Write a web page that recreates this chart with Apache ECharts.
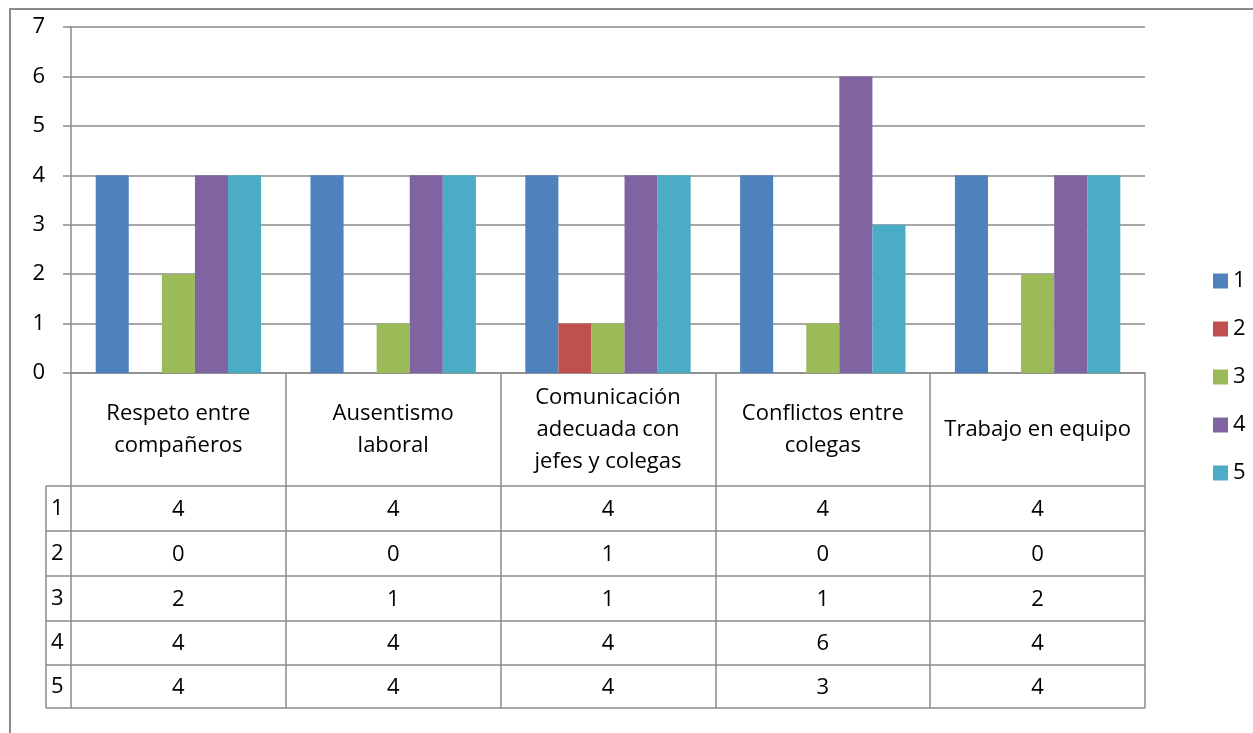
<!DOCTYPE html>
<html>
<head>
<meta charset="utf-8">
<script src="https://cdn.jsdelivr.net/npm/echarts@6/dist/echarts.min.js"></script>
<style>
html,body{margin:0;padding:0;background:#fff;}
#chart{width:1253px;height:733px;}
</style>
</head>
<body>
<div id="chart"></div>
<script>
var categories = ['Respeto entre compañeros', 'Ausentismo laboral', 'Comunicación adecuada con jefes y colegas', 'Conflictos entre colegas', 'Trabajo en equipo'];
var categoryLabels = ['Respeto entre\ncompañeros', 'Ausentismo\nlaboral', 'Comunicación\nadecuada con\njefes y colegas', 'Conflictos entre\ncolegas', 'Trabajo en equipo'];
var seriesNames = ['1', '2', '3', '4', '5'];
var s1 = [4, 4, 4, 4, 4];
var s2 = [0, 0, 1, 0, 0];
var s3 = [2, 1, 1, 1, 2];
var s4 = [4, 4, 4, 6, 4];
var s5 = [4, 4, 4, 3, 4];
var yTicks = [0, 1, 2, 3, 4, 5, 6, 7];
var seriesData = [s1, s2, s3, s4, s5];
var colors = ['#4F81BD', '#C0504D', '#9BBB59', '#8064A2', '#4BACC6'];

var FONT = '"Open Sans", sans-serif';
var FS = 22;
var LINE = '#8a8a8a';
var chart = echarts.init(document.getElementById('chart'), null, {renderer: 'canvas'});

var GRID_TOP = 27, GRID_BOTTOM_Y = 373;
var ROW_TOPS = [486, 531, 576, 621, 665, 708];

var option = {
  animation: false,
  backgroundColor: '#fff',
  color: colors,
  grid: {left: 71, right: 108, top: GRID_TOP, bottom: 733 - GRID_BOTTOM_Y, containLabel: false},
  legend: {
    orient: 'vertical',
    left: 1208,
    top: 265,
    itemWidth: 15,
    itemHeight: 15,
    itemGap: 26,
    icon: 'rect',
    textStyle: {fontFamily: FONT, fontSize: FS, color: '#000'},
    data: seriesNames
  },
  xAxis: {
    type: 'category',
    data: categories,
    boundaryGap: true,
    axisLine: {show: true, lineStyle: {color: LINE, width: 1.5}},
    axisTick: {show: true, alignWithLabel: false, length: ROW_TOPS[5] - GRID_BOTTOM_Y, lineStyle: {color: LINE, width: 1.5}},
    axisLabel: {
      interval: 0,
      margin: 57,
      verticalAlign: 'middle',
      align: 'center',
      fontFamily: FONT,
      fontSize: FS,
      lineHeight: 32,
      color: '#000',
      formatter: function (v, i) { return categoryLabels[i]; }
    },
    splitLine: {show: false}
  },
  yAxis: {
    type: 'value',
    min: yTicks[0],
    max: yTicks[yTicks.length - 1],
    interval: 1,
    axisLine: {show: true, lineStyle: {color: LINE, width: 1.5}},
    axisTick: {show: true, length: 8, lineStyle: {color: LINE, width: 1.5}},
    axisLabel: {fontFamily: FONT, fontSize: FS, color: '#000', margin: 26},
    splitLine: {show: true, lineStyle: {color: LINE, width: 1.5}}
  },
  series: seriesNames.map(function (n, i) {
    return {
      name: n,
      type: 'bar',
      data: seriesData[i],
      barGap: '0%',
      barCategoryGap: '23%',
      itemStyle: {color: colors[i]}
    };
  })
};
chart.setOption(option);

function buildTable() {
  var els = [];
  els.push({type: 'rect', shape: {x: 10, y: 9, width: 1400, height: 900}, style: {fill: 'none', stroke: LINE, lineWidth: 2}, z: 0});
  var bounds = [];
  var n = categories.length;
  var c0 = chart.convertToPixel({xAxisIndex: 0}, 0);
  var c1 = chart.convertToPixel({xAxisIndex: 0}, 1);
  var bw = c1 - c0;
  for (var i = 0; i <= n; i++) bounds.push(c0 - bw / 2 + i * bw);
  var leftX = 46;
  var rightX = bounds[n];
  for (var r = 0; r < ROW_TOPS.length; r++) {
    els.push({type: 'line', shape: {x1: leftX, y1: ROW_TOPS[r], x2: rightX, y2: ROW_TOPS[r]}, style: {stroke: LINE, lineWidth: 1.5}});
  }
  els.push({type: 'line', shape: {x1: leftX, y1: ROW_TOPS[0], x2: leftX, y2: ROW_TOPS[5]}, style: {stroke: LINE, lineWidth: 1.5}});
  for (var r = 0; r < seriesNames.length; r++) {
    var cy = (ROW_TOPS[r] + ROW_TOPS[r + 1]) / 2;
    els.push({type: 'text', x: 51, y: cy, style: {text: seriesNames[r], font: FS + 'px ' + FONT, fill: '#000', textAlign: 'left', textVerticalAlign: 'middle'}});
    for (var c = 0; c < n; c++) {
      var cx = chart.convertToPixel({xAxisIndex: 0}, c);
      els.push({type: 'text', x: cx, y: cy + 1, style: {text: String(seriesData[r][c]), font: FS + 'px ' + FONT, fill: '#000', textAlign: 'center', textVerticalAlign: 'middle'}});
    }
  }
  chart.setOption({graphic: {elements: els}});
}
buildTable();
</script>
</body>
</html>
